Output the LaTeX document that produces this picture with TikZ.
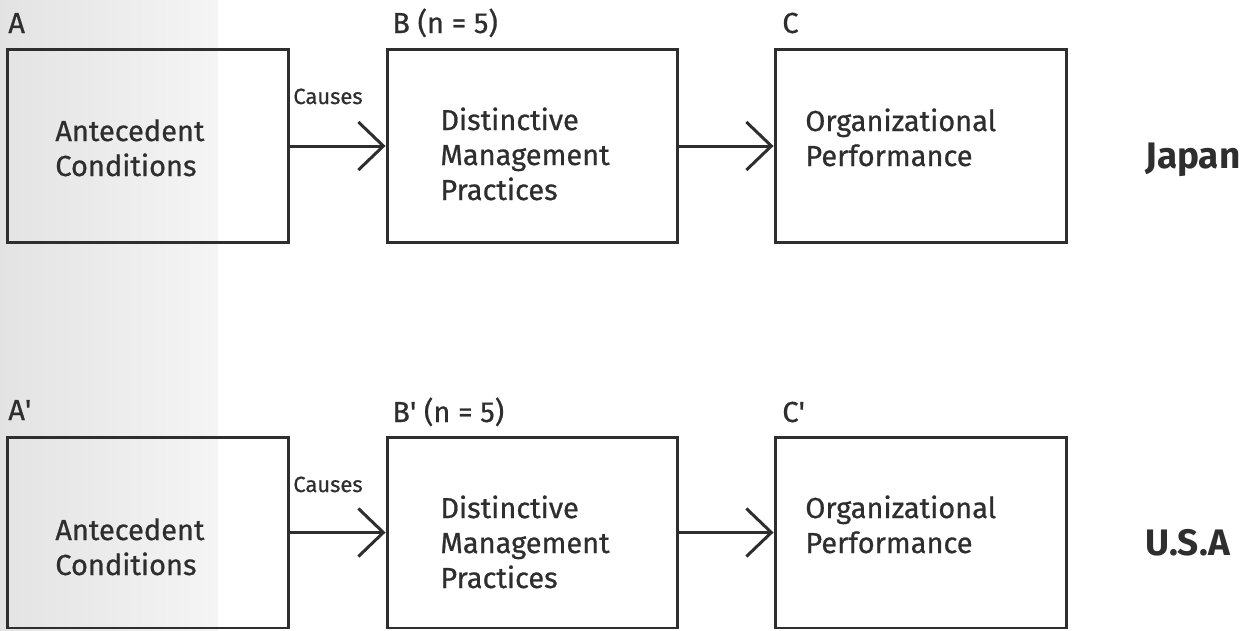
\documentclass[tikz,border=0pt]{standalone}
\usepackage{fontspec}
\setmainfont{Fira Sans}
\newfontfamily\boxfont{Fira Sans}[FakeBold=0.7]
\usetikzlibrary{arrows.meta}
\colorlet{ink}{black!82}
\tikzset{
  box/.style={draw=ink, line width=1.7pt, line join=miter, minimum width=#1, minimum height=3.86cm, inner sep=0pt},
  txt/.style={anchor=base west, align=left, inner sep=0pt, text=ink, font=\boxfont\fontsize{16.5pt}{19.9pt}\selectfont},
  tag/.style={txt},
  cause/.style={anchor=base west, inner sep=0pt, text=ink, font=\boxfont\fontsize{12.5pt}{15pt}\selectfont},
  country/.style={anchor=base west, inner sep=0pt, text=ink, font=\fontsize{21pt}{24pt}\selectfont\bfseries},
  flow/.style={draw=ink, line width=1.7pt, -{Straight Barb[length=0.5cm, width=0.96cm, line width=1.7pt]}}
}
\begin{document}
\begin{tikzpicture}[x=0.02cm, y=-0.02cm, line cap=round, line join=round]
  \useasboundingbox (0,0) rectangle (1250,630);
  % scanned page tint on the left
  \shade[left color=black!11, right color=black!4] (0,0) rectangle (218,630);

  % Japan row
  \node[box=5.62cm] (A) at (148,146) {};
  \node[box=5.82cm] (B) at (532.5,146) {};
  \node[box=5.84cm] (C) at (921,146) {};
  \node[tag] (tA) at (8,33) {A};
  \node[tag] (tB) at (392,33) {B (n = 5)};
  \node[tag] (tC) at (782,33) {C};
  % multi-line text sits on its last baseline
  \node[txt] (xA) at (55,176) {Antecedent\\Conditions};
  \node[txt] (xB) at (440,200) {Distinctive\\Management\\Practices};
  \node[txt] (xC) at (805,166) {Organizational\\Performance};
  \draw[flow] (A) -- (B);
  \draw[flow] (B) -- (C);
  \node[cause] (cA) at (293,104) {Causes};
  \node[country] (jp) at (1145,168) {Japan};

  % U.S.A row
  \node[box=5.62cm, minimum height=3.82cm] (Ap) at (148,532.5) {};
  \node[box=5.82cm, minimum height=3.82cm] (Bp) at (532.5,532.5) {};
  \node[box=5.84cm, minimum height=3.82cm] (Cp) at (921,532.5) {};
  \node[tag] (tAp) at (8,420) {A\textquotesingle};
  \node[tag] (tBp) at (392,422) {B\textquotesingle\ (n = 5)};
  \node[tag] (tCp) at (782,422) {C\textquotesingle};
  \node[txt] (xAp) at (55,575) {Antecedent\\Conditions};
  \node[txt] (xBp) at (440,588) {Distinctive\\Management\\Practices};
  \node[txt] (xCp) at (805,553) {Organizational\\Performance};
  \draw[flow] (Ap) -- (Bp);
  \draw[flow] (Bp) -- (Cp);
  \node[cause] (cAp) at (293,492) {Causes};
  \node[country] (us) at (1145,555) {U.S.A};
\end{tikzpicture}
\end{document}
